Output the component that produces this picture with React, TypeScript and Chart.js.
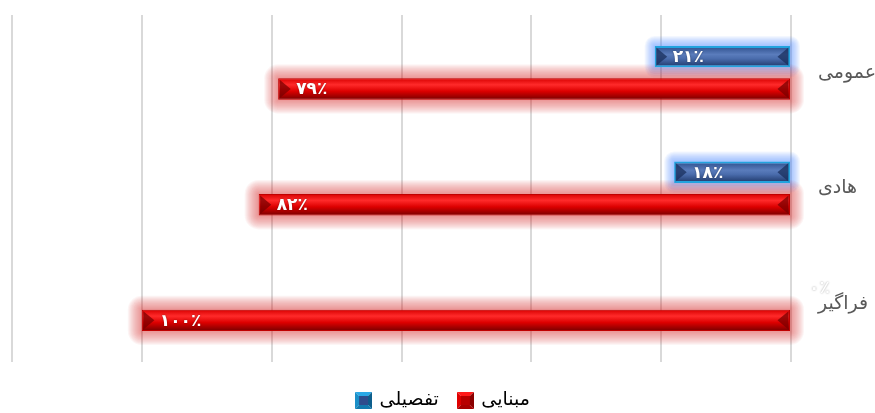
import React, { useEffect, useRef } from 'react';
import { Chart, registerables } from 'chart.js';

Chart.register(...registerables);

// ---- data ----
const categories = ['عمومی', 'هادی', 'فراگیر'];
const seriesNames = ['تفصیلی', 'مبنایی'];
const detailedValues = [21, 18, 0];
const basicValues = [79, 82, 100];
const xMin = 0;
const xMax = 120;
const xStep = 20;

const toFa = (n: number) => String(n).replace(/\d/g, (d) => '۰۱۲۳۴۵۶۷۸۹'[+d]);

const styles = [
  {
    border: '#22a3de',
    solid: '#3a5c9c',
    glow: [90, 150, 255],
    glowAlpha: 0.075,
    glowSize: 10,
    dark: '#1a2f5c',
    stops: [
      [0, '#2c4d8a'],
      [0.4, '#5a7cbc'],
      [0.6, '#4a6cac'],
      [1, '#1c3566'],
    ],
  },
  {
    border: '#c00000',
    solid: '#e00000',
    glow: [215, 50, 50],
    glowAlpha: 0.05,
    glowSize: 14,
    dark: '#7a0000',
    stops: [
      [0, '#d80000'],
      [0.3, '#ff2a2a'],
      [0.6, '#dd0000'],
      [1, '#780000'],
    ],
  },
];

function barBox(el: any) {
  const left = Math.min(el.x, el.base);
  const right = Math.max(el.x, el.base);
  const top = el.y - el.height / 2;
  const bot = el.y + el.height / 2;
  return { left, right, top, bot };
}

const bevelPlugin = {
  id: 'bevel',
  afterLayout(chart: any) {
    if (chart.legend) {
      chart.legend.top += 9;
      chart.legend.bottom += 9;
    }
  },
  beforeDatasetsDraw(chart: any) {
    const ctx = chart.ctx;
    ctx.save();
    chart.data.datasets.forEach((ds: any, i: number) => {
      const st = styles[i];
      const meta = chart.getDatasetMeta(i);
      meta.data.forEach((el: any, j: number) => {
        if (!ds.data[j]) return;
        const b = barBox(el);
        for (let k = st.glowSize; k >= 1; k--) {
          ctx.fillStyle = `rgba(${st.glow[0]},${st.glow[1]},${st.glow[2]},${st.glowAlpha})`;
          ctx.beginPath();
          const x = b.left - k, y = b.top - k, w = b.right - b.left + 2 * k, h = b.bot - b.top + 2 * k;
          if (ctx.roundRect) ctx.roundRect(x, y, w, h, k);
          else ctx.rect(x, y, w, h);
          ctx.fill();
        }
      });
    });
    ctx.restore();
  },
  beforeDatasetDraw(chart: any, args: any) {
    const ctx = chart.ctx;
    const st = styles[args.index];
    args.meta.data.forEach((el: any) => {
      const b = barBox(el);
      const g = ctx.createLinearGradient(0, b.top, 0, b.bot);
      st.stops.forEach((s: any) => g.addColorStop(s[0], s[1]));
      el.options.backgroundColor = g;
    });
  },
  afterDatasetDraw(chart: any, args: any) {
    const ctx = chart.ctx;
    const st = styles[args.index];
    const ds = chart.data.datasets[args.index];
    ctx.save();
    args.meta.data.forEach((el: any, j: number) => {
      if (!ds.data[j]) return;
      const b = barBox(el);
      const inset = 1.5;
      const t = b.top + inset, bo = b.bot - inset, l = b.left + inset, r = b.right - inset;
      const h = bo - t;
      const my = (t + bo) / 2;
      ctx.fillStyle = st.dark;
      ctx.globalAlpha = 0.75;
      ctx.beginPath();
      ctx.moveTo(l, t);
      ctx.lineTo(l + h * 0.6, my);
      ctx.lineTo(l, bo);
      ctx.closePath();
      ctx.fill();
      ctx.beginPath();
      ctx.moveTo(r, t);
      ctx.lineTo(r - h * 0.6, my);
      ctx.lineTo(r, bo);
      ctx.closePath();
      ctx.fill();
    });
    ctx.restore();
  },
};

const labelPlugin = {
  id: 'valueLabels',
  afterDatasetsDraw(chart: any) {
    const ctx = chart.ctx;
    ctx.save();
    ctx.font = 'bold 17px "DejaVu Sans"';
    ctx.fillStyle = '#ffffff';
    ctx.textAlign = 'left';
    ctx.textBaseline = 'middle';
    ctx.shadowColor = 'rgba(0,0,0,0.4)';
    ctx.shadowBlur = 2;
    chart.data.datasets.forEach((ds: any, i: number) => {
      const meta = chart.getDatasetMeta(i);
      meta.data.forEach((el: any, j: number) => {
        const v = ds.data[j];
        ctx.fillText(toFa(v) + '٪', el.x + 18, el.y + 1);
      });
    });
    ctx.restore();
  },
};

function legendIcon(i: number) {
  const c = document.createElement('canvas');
  const s = 17;
  c.width = s;
  c.height = s;
  const x = c.getContext('2d')!;
  const tri = (pts: number[][], col: string) => {
    x.fillStyle = col;
    x.beginPath();
    x.moveTo(pts[0][0], pts[0][1]);
    for (let k = 1; k < pts.length; k++) x.lineTo(pts[k][0], pts[k][1]);
    x.closePath();
    x.fill();
  };
  const a = 4, b = s - 4;
  if (i === 0) {
    tri([[0, 0], [s, 0], [b, a], [a, a]], '#2aa8e6');
    tri([[0, 0], [a, a], [a, b], [0, s]], '#1b8fc8');
    tri([[s, 0], [s, s], [b, b], [b, a]], '#0d5e8c');
    tri([[0, s], [a, b], [b, b], [s, s]], '#127aae');
    x.fillStyle = '#2e4c8c';
  } else {
    tri([[0, 0], [s, 0], [b, a], [a, a]], '#ff1a1a');
    tri([[0, 0], [a, a], [a, b], [0, s]], '#e00000');
    tri([[s, 0], [s, s], [b, b], [b, a]], '#8a0000');
    tri([[0, s], [a, b], [b, b], [s, s]], '#a80000');
    x.fillStyle = '#b80000';
  }
  x.fillRect(a, a, b - a, b - a);
  return c;
}

export default function App() {
  const ref = useRef<HTMLCanvasElement | null>(null);
  useEffect(() => {
    if (!ref.current) return;
    const icons = [legendIcon(0), legendIcon(1)];
    const chart = new Chart(ref.current, {
      type: 'bar',
      data: {
        labels: categories,
        datasets: [
          {
            label: seriesNames[0],
            data: detailedValues,
            backgroundColor: () => styles[0].solid,
            borderColor: styles[0].border,
            borderWidth: 2,
            borderSkipped: false,
            categoryPercentage: 0.56,
            barPercentage: 0.66,
          },
          {
            label: seriesNames[1],
            data: basicValues,
            backgroundColor: () => styles[1].solid,
            borderColor: styles[1].border,
            borderWidth: 1,
            borderSkipped: false,
            categoryPercentage: 0.56,
            barPercentage: 0.66,
          },
        ],
      },
      options: {
        indexAxis: 'y',
        animation: false,
        responsive: false,
        layout: { padding: { left: 12, top: 15, right: 0, bottom: 2 } },
        scales: {
          x: {
            reverse: true,
            min: xMin,
            max: xMax,
            ticks: { display: false, stepSize: xStep },
            grid: { color: '#d9d9d9', lineWidth: 2, drawTicks: false },
            border: { display: false },
          },
          y: {
            position: 'right',
            grid: { display: false, drawTicks: false },
            border: { display: false },
            ticks: {
              padding: 27,
              color: '#595959',
              font: { family: '"DejaVu Sans"', size: 19 },
            },
            afterFit: (s: any) => {
              s.width = 84;
              s.paddingTop = 0;
              s.paddingBottom = 0;
            },
          },
        },
        plugins: {
          legend: {
            position: 'bottom',
            labels: {
              usePointStyle: true,
              boxWidth: 13,
              boxHeight: 17,
              pointStyleWidth: 13,
              color: '#595959',
              font: { family: '"DejaVu Sans"', size: 19 },
              padding: 20,
              generateLabels: (c: any) =>
                c.data.datasets.map((ds: any, i: number) => ({
                  text: ds.label,
                  fillStyle: styles[i].solid,
                  strokeStyle: styles[i].border,
                  pointStyle: icons[i],
                  lineWidth: 0,
                  datasetIndex: i,
                  hidden: false,
                })),
            },
          },
          tooltip: { enabled: false },
        },
      },
      plugins: [bevelPlugin, labelPlugin],
    } as any);
    return () => chart.destroy();
  }, []);
  return (
    <div style={{ position: 'fixed', left: 0, top: 0, width: 875, height: 413, background: '#fff' }}>
      <canvas ref={ref} width={875} height={413} style={{ width: 875, height: 413 }} />
    </div>
  );
}
